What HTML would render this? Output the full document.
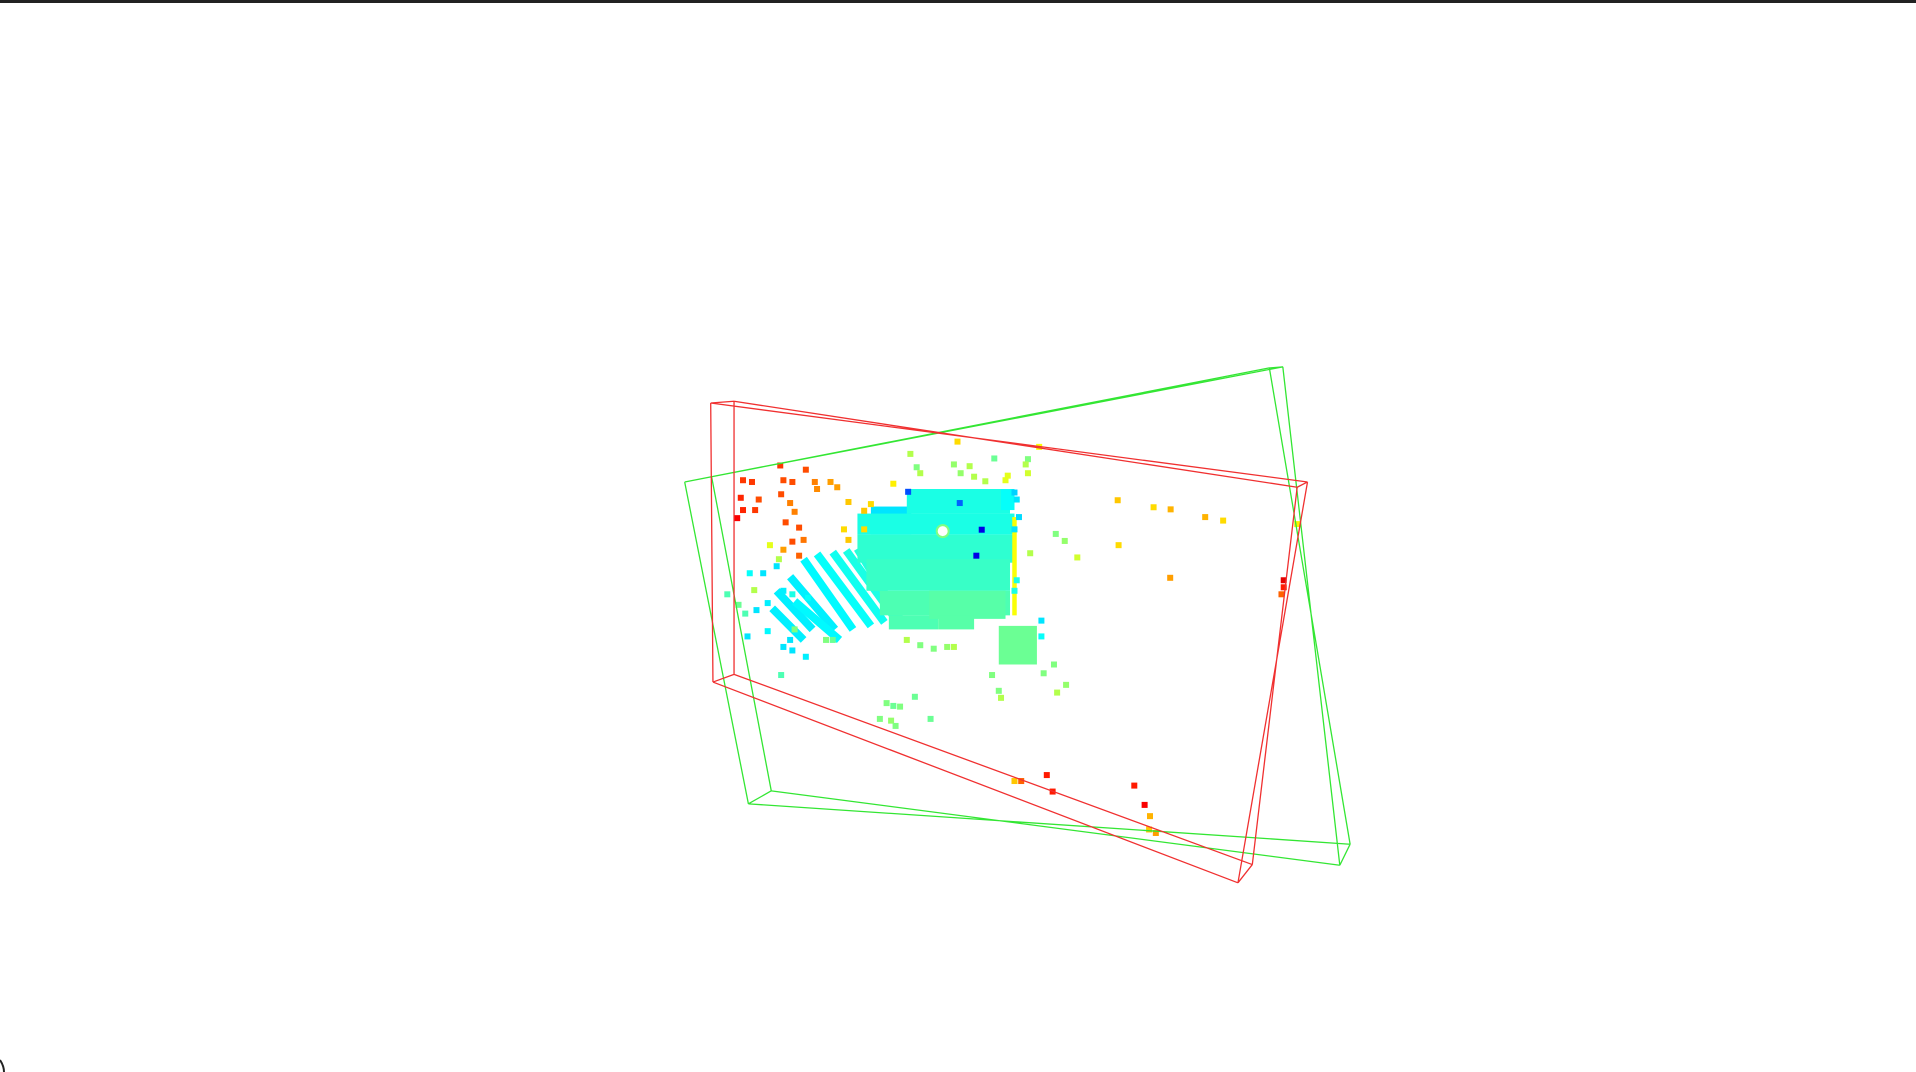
<!DOCTYPE html>
<html><head><meta charset="utf-8"><style>
html,body{margin:0;padding:0;background:#fff;width:1916px;height:1072px;overflow:hidden;font-family:"Liberation Sans",sans-serif}
</style></head><body>
<div style="position:absolute;left:0;top:0;width:1916px;height:3px;background:#222"></div>
<svg id="scene" width="1916" height="1072" style="position:absolute;left:0;top:0">
<path d="M0,1060 Q4,1066 4,1072" stroke="#222" stroke-width="2" fill="none"/>
</svg>
<script>
// scene coordinates (projected), mapped by axis functions
const redFront=[[113,155],[1443,380],[1288,1522],[118,950]];
const redBack=[[165,150],[1420,395],[1320,1470],[165,928]];
const greenFront=[[55,380],[1358,55],[1538,1412],[197,1297]];
const greenBack=[[115,365],[1388,52],[1515,1472],[248,1260]];
// dense blocks: x, y, w, h, value
const blockX=[470,550,440,440,460,490,510,600,755,785,760,620];
const blockY=[450,400,470,530,600,690,760,690,790,480,400,760];
const blockW=[90,230,350,350,320,290,110,170,85,10,30,80];
const blockH=[80,70,60,80,90,70,40,80,110,280,60,40];
const blockV=[.35,.40,.40,.42,.43,.45,.45,.46,.48,.62,.38,.46];
// scan-line stripes: start x/y, end x/y, value
const stripeX1=[350,385,415,320,290,260,440,300,250];
const stripeY1=[585,580,575,600,650,690,570,720,740];
const stripeX2=[470,500,525,430,390,340,540,400,320];
const stripeY2=[790,780,770,800,800,800,780,830,830];
const stripeV=[.38,.39,.4,.37,.36,.36,.41,.37,.36];
// scattered points: x, y, value
const ptX=[185,205,275,295,325,268,345,380,395,350,180,220,270,290,300,185,212,172,280,310,320,295,275,310,
420,470,455,410,455,420,520,663,845,1020,1100,1138,1215,1255,1022,1137,1420,1390,1385,
558,572,580,655,690,670,700,745,725,770,820,815,820,775,882,902,930,825,245,265,210,150,175,190,300,370,385,550,580,610,640,655,740,755,760,885,905,855,878,505,520,535,490,515,525,603,568,270,
230,260,200,240,215,195,240,275,295,325,290,295,330,275,790,795,790,800,850,850,795,790,
717,705,553,668,
862,875,805,790,1057,1080,1092,1090,1105,1390];
const ptY=[375,380,375,380,345,333,380,380,395,400,425,430,415,440,465,460,460,483,495,510,545,550,573,590,
437,443,462,515,515,545,385,265,280,432,452,458,480,490,560,653,500,680,700,
300,338,355,330,335,355,365,313,378,375,315,330,355,362,528,548,595,583,560,600,688,700,730,755,800,830,830,830,845,855,850,850,930,975,995,980,958,925,900,1010,1018,1020,1055,1060,1075,1055,992,930,
640,620,640,725,745,820,805,850,860,878,830,700,710,690,410,430,515,480,775,820,660,690,
516,590,408,440,
1215,1262,1232,1232,1245,1300,1332,1370,1380,660];
const ptV=[.82,.82,.8,.8,.8,.82,.75,.72,.72,.74,.84,.8,.8,.75,.75,.84,.82,.88,.8,.8,.76,.8,.72,.78,
.68,.66,.68,.66,.66,.68,.64,.66,.62,.68,.66,.7,.7,.66,.66,.72,.64,.85,.78,
.55,.5,.55,.52,.55,.52,.55,.48,.55,.6,.5,.55,.58,.6,.5,.52,.58,.55,.6,.55,.55,.45,.48,.45,.5,.5,.48,.55,.5,.5,.52,.55,.5,.5,.55,.55,.52,.5,.5,.5,.48,.5,.5,.52,.5,.48,.48,.45,
.35,.35,.38,.36,.35,.35,.37,.35,.35,.36,.35,.4,.38,.36,.33,.35,.35,.34,.35,.38,.4,.4,
.1,.1,.2,.22,
.85,.85,.78,.68,.85,.88,.7,.68,.72,.9];
const ox=660, oy=348.6, kx=700/1560, ky=0.351;
const sx=v=>ox+v*kx, sy=v=>oy+v*ky;
function jet(v){const r=Math.min(Math.max(1.5-Math.abs(4*v-3),0),1),g=Math.min(Math.max(1.5-Math.abs(4*v-2),0),1),b=Math.min(Math.max(1.5-Math.abs(4*v-1),0),1);return `rgb(${Math.round(r*255)},${Math.round(g*255)},${Math.round(b*255)})`;}
const svg=document.getElementById('scene');const NS='http://www.w3.org/2000/svg';
function mk(t,a){const e=document.createElementNS(NS,t);for(const q in a)e.setAttribute(q,a[q]);svg.appendChild(e);return e;}
for(let i=0;i<stripeX1.length;i++){
 const e=mk('line',{x1:sx(stripeX1[i]),y1:sy(stripeY1[i]),x2:sx(stripeX2[i]),y2:sy(stripeY2[i]),stroke:jet(stripeV[i]),'stroke-width':8});
 
 
}
for(let i=0;i<blockX.length;i++){
 const e=mk('rect',{x:sx(blockX[i]),y:sy(blockY[i]),width:blockW[i]*kx,height:blockH[i]*ky,fill:jet(blockV[i])});
 
 
}
const hole=mk('circle',{cx:sx(630),cy:sy(520),r:6,fill:'#fff',stroke:jet(.5),'stroke-width':2});


for(let i=0;i<ptX.length;i++){
 const e=mk('rect',{x:sx(ptX[i])-3,y:sy(ptY[i])-3,width:6,height:6,fill:jet(ptV[i])});
 
 
}
function box(f,b,col,name){
 let d='';const ln=(p,q)=>{d+=`M${sx(p[0])},${sy(p[1])}L${sx(q[0])},${sy(q[1])}`;};
 for(let i=0;i<4;i++){ln(f[i],f[(i+1)%4]);ln(b[i],b[(i+1)%4]);ln(f[i],b[i]);}
 const e=mk('path',{d:d,stroke:col,'stroke-width':1.3,fill:'none'});
 
 
}
box(greenFront,greenBack,'#33e633','ground-truth-box');
box(redFront,redBack,'#f03030','predicted-box');
</script>
</body></html>
